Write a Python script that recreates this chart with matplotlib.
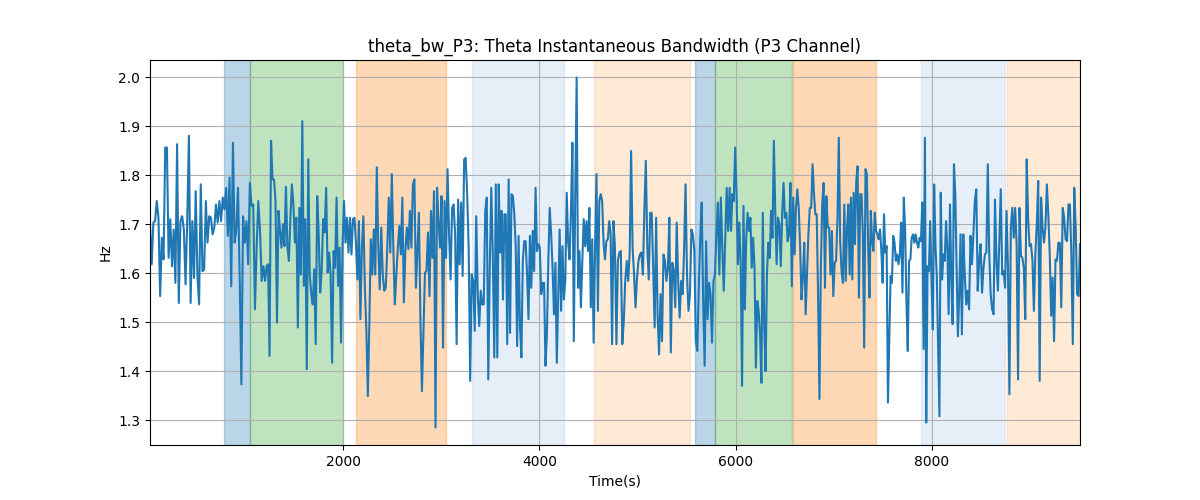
import numpy as np
import matplotlib
matplotlib.use("Agg")
import matplotlib.pyplot as plt

# Segment boundaries in time (s) and the values read in each segment
seg_bounds = [31, 1204, 2388, 3571, 4755, 5939, 7122, 8306, 9510]

seg1 = [1.700, 1.618, 1.703, 1.706, 1.747, 1.713, 1.553, 1.672, 1.628, 1.856, 1.856, 1.631, 1.710, 1.614,
        1.689, 1.580, 1.863, 1.539, 1.706, 1.716, 1.689, 1.577, 1.706, 1.880, 1.539, 1.706, 1.590, 1.767,
        1.597, 1.536, 1.781, 1.604, 1.607, 1.747, 1.662, 1.716, 1.713, 1.679, 1.693, 1.740, 1.703, 1.747,
        1.706, 1.754, 1.730, 1.774, 1.676, 1.795, 1.573, 1.866, 1.662, 1.689, 1.774, 1.590, 1.373, 1.716,
        1.662, 1.706, 1.618, 1.784, 1.737, 1.740, 1.526, 1.652, 1.747, 1.686, 1.584, 1.614]
seg2 = [1.584, 1.614, 1.618, 1.431, 1.870, 1.791, 1.791, 1.747, 1.499, 1.727, 1.686, 1.652, 1.700, 1.655,
        1.776, 1.652, 1.625, 1.713, 1.781, 1.740, 1.662, 1.713, 1.489, 1.733, 1.597, 1.910, 1.574, 1.710,
        1.404, 1.832, 1.597, 1.557, 1.536, 1.608, 1.455, 1.757, 1.679, 1.560, 1.604, 1.710, 1.683, 1.774,
        1.601, 1.642, 1.597, 1.417, 1.645, 1.611, 1.754, 1.574, 1.652, 1.458, 1.655, 1.747, 1.662, 1.713,
        1.642, 1.713, 1.638, 1.710, 1.713, 1.662, 1.587, 1.706, 1.506, 1.652, 1.716, 1.570, 1.485, 1.349,
        1.496, 1.669, 1.597, 1.689, 1.597, 1.816, 1.652, 1.567]
seg3 = [1.693, 1.597, 1.564, 1.570, 1.652, 1.754, 1.642, 1.802, 1.652, 1.536, 1.597, 1.652, 1.696, 1.638,
        1.754, 1.540, 1.645, 1.693, 1.649, 1.727, 1.652, 1.781, 1.791, 1.570, 1.645, 1.723, 1.502, 1.359,
        1.482, 1.601, 1.604, 1.683, 1.553, 1.727, 1.631, 1.767, 1.285, 1.774, 1.706, 1.652, 1.757, 1.448,
        1.747, 1.631, 1.812, 1.679, 1.587, 1.733, 1.740, 1.679, 1.455, 1.750, 1.618, 1.744, 1.594, 1.832,
        1.835, 1.761, 1.652, 1.380, 1.597, 1.584, 1.482, 1.716, 1.557, 1.492, 1.564, 1.536, 1.536, 1.727,
        1.754, 1.383, 1.611, 1.774, 1.638, 1.428, 1.781]
seg4 = [1.428, 1.781, 1.642, 1.727, 1.546, 1.720, 1.720, 1.455, 1.791, 1.478, 1.761, 1.757, 1.720, 1.652,
        1.451, 1.676, 1.492, 1.428, 1.625, 1.665, 1.665, 1.597, 1.506, 1.676, 1.570, 1.686, 1.604, 1.774,
        1.645, 1.659, 1.652, 1.557, 1.580, 1.580, 1.411, 1.475, 1.625, 1.733, 1.679, 1.611, 1.516, 1.621,
        1.417, 1.550, 1.689, 1.523, 1.655, 1.546, 1.587, 1.764, 1.662, 1.628, 1.727, 1.866, 1.461, 1.761,
        1.999, 1.570, 1.645, 1.530, 1.625, 1.710, 1.655, 1.706, 1.645, 1.733, 1.530, 1.669, 1.458, 1.652,
        1.802, 1.523, 1.747, 1.761, 1.747, 1.662, 1.628, 1.665, 1.669, 1.706, 1.679, 1.455]
seg5 = [1.706, 1.652, 1.455, 1.625, 1.642, 1.645, 1.455, 1.502, 1.584, 1.625, 1.584, 1.638, 1.849, 1.652,
        1.597, 1.530, 1.591, 1.625, 1.638, 1.642, 1.597, 1.727, 1.829, 1.652, 1.587, 1.723, 1.723, 1.611,
        1.489, 1.713, 1.516, 1.434, 1.557, 1.461, 1.638, 1.625, 1.584, 1.611, 1.713, 1.438, 1.621, 1.604,
        1.530, 1.703, 1.584, 1.509, 1.584, 1.557, 1.645, 1.781, 1.597, 1.523, 1.557, 1.689, 1.679, 1.645,
        1.461, 1.441, 1.570, 1.672, 1.744, 1.543, 1.411, 1.665, 1.506, 1.580, 1.557, 1.458, 1.584, 1.597,
        1.679, 1.744, 1.597, 1.754, 1.652, 1.564, 1.672, 1.774, 1.686]
seg6 = [1.774, 1.686, 1.761, 1.747, 1.856, 1.761, 1.618, 1.703, 1.618, 1.370, 1.737, 1.526, 1.672, 1.723,
        1.686, 1.713, 1.611, 1.672, 1.611, 1.407, 1.543, 1.523, 1.475, 1.376, 1.723, 1.496, 1.400, 1.597,
        1.662, 1.631, 1.727, 1.672, 1.870, 1.727, 1.618, 1.713, 1.700, 1.614, 1.720, 1.784, 1.713, 1.723,
        1.665, 1.679, 1.784, 1.573, 1.754, 1.638, 1.733, 1.771, 1.733, 1.655, 1.546, 1.591, 1.662, 1.516,
        1.597, 1.679, 1.733, 1.733, 1.822, 1.764, 1.720, 1.720, 1.557, 1.343, 1.611, 1.740, 1.784, 1.570,
        1.757, 1.693, 1.693, 1.597, 1.686, 1.553, 1.621, 1.625, 1.706, 1.876, 1.665, 1.604, 1.580, 1.740]
seg7 = [1.584, 1.693, 1.740, 1.597, 1.754, 1.587, 1.764, 1.659, 1.788, 1.818, 1.550, 1.761, 1.761, 1.679,
        1.448, 1.812, 1.802, 1.652, 1.550, 1.727, 1.665, 1.645, 1.723, 1.686, 1.679, 1.669, 1.689, 1.645,
        1.580, 1.720, 1.642, 1.655, 1.336, 1.468, 1.594, 1.580, 1.676, 1.662, 1.625, 1.638, 1.618, 1.638,
        1.703, 1.560, 1.754, 1.689, 1.543, 1.441, 1.625, 1.628, 1.672, 1.679, 1.662, 1.679, 1.662, 1.652,
        1.672, 1.665, 1.744, 1.445, 1.876, 1.295, 1.614, 1.604, 1.706, 1.584, 1.485, 1.781, 1.655, 1.594,
        1.448, 1.308, 1.764, 1.587, 1.638, 1.625, 1.706, 1.649, 1.516, 1.740, 1.587, 1.496, 1.822, 1.761,
        1.611, 1.471, 1.557, 1.679]
seg8 = [1.475, 1.679, 1.597, 1.536, 1.564, 1.526, 1.676, 1.618, 1.679, 1.747, 1.771, 1.564, 1.625, 1.659,
        1.560, 1.611, 1.638, 1.642, 1.822, 1.638, 1.557, 1.526, 1.516, 1.750, 1.625, 1.564, 1.665, 1.771,
        1.597, 1.604, 1.570, 1.727, 1.611, 1.353, 1.693, 1.733, 1.672, 1.733, 1.659, 1.383, 1.733, 1.635,
        1.631, 1.611, 1.506, 1.832, 1.710, 1.655, 1.659, 1.625, 1.523, 1.638, 1.700, 1.788, 1.380, 1.754,
        1.693, 1.662, 1.693, 1.781, 1.720, 1.638, 1.513, 1.591, 1.461, 1.628, 1.625, 1.662, 1.662, 1.530,
        1.733, 1.713, 1.669, 1.665, 1.740, 1.740, 1.638, 1.455, 1.774, 1.693, 1.557, 1.553, 1.659]

segments = [seg1, seg2, seg3, seg4, seg5, seg6, seg7, seg8]

# Shaded intervals: (start, end, color, alpha)
span_starts = [786, 1051, 2133, 3316, 4561, 5582, 5786, 6582, 7888, 8765]
span_ends = [1051, 2000, 3051, 4255, 5531, 5786, 6571, 7429, 8745, 9510]
span_colors = ["tab:blue", "tab:green", "tab:orange", "#aec7e8", "#ffbb78",
               "tab:blue", "tab:green", "tab:orange", "#aec7e8", "#ffbb78"]
span_alphas = [0.3, 0.3, 0.3, 0.3, 0.3, 0.3, 0.3, 0.3, 0.3, 0.3]

times = []
values = []
n_seg = len(segments)
for i, seg in enumerate(segments):
    last = (i == n_seg - 1)
    t = np.linspace(seg_bounds[i], seg_bounds[i + 1], len(seg), endpoint=last)
    times.extend(t)
    values.extend(seg)
times = np.array(times)
values = np.array(values)

fig, ax = plt.subplots(figsize=(12, 5), dpi=100)
for s, e, c, a in zip(span_starts, span_ends, span_colors, span_alphas):
    ax.axvspan(s, e, color=c, alpha=a)
ax.plot(times, values, color="tab:blue", linewidth=1.5)
ax.set_xlim(times[0], times[-1])
ax.grid(True)
ax.set_title("theta_bw_P3: Theta Instantaneous Bandwidth (P3 Channel)")
ax.set_xlabel("Time(s)")
ax.set_ylabel("Hz")
fig.savefig("out.png", dpi=100)
